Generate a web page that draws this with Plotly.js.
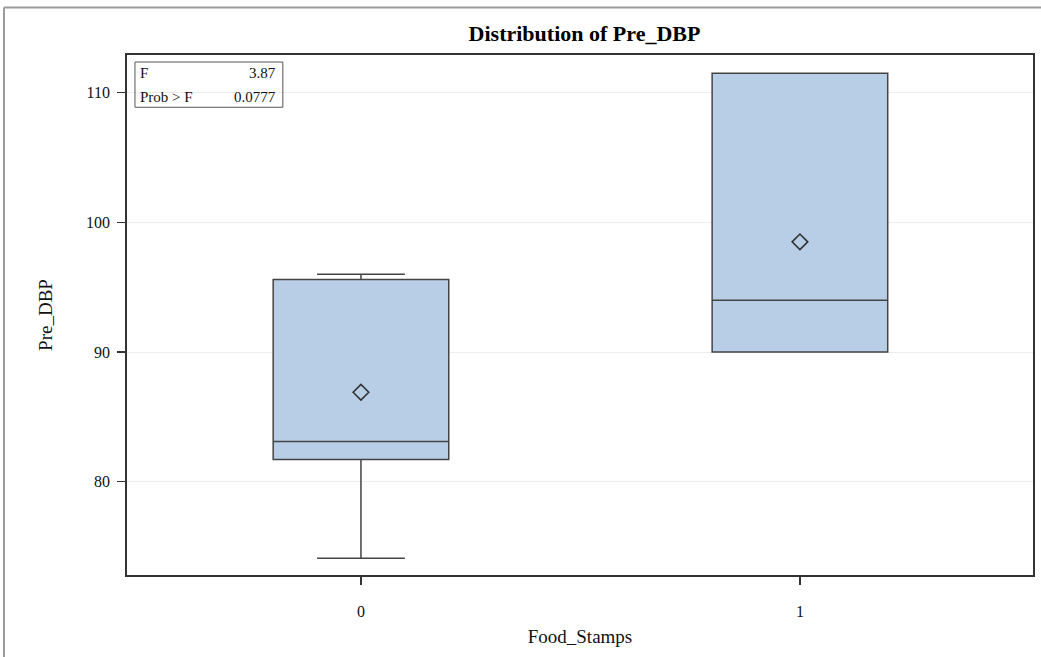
<!DOCTYPE html>
<html>
<head>
<meta charset="utf-8">
<script src="https://cdn.plot.ly/plotly-3.0.1.min.js"></script>
<style>
  html, body { margin: 0; padding: 0; background: #ffffff; }
  #chart { width: 1041px; height: 657px; }
</style>
</head>
<body>
<div id="chart"></div>
<script>
// ---- Data ----
var categories = [0, 1];
var tickLabels = ["0", "1"];
var lowerFence = [74.1, 90.0];
var q1Values = [81.7, 90.0];
var medianValues = [83.1, 94.0];
var q3Values = [95.6, 111.5];
var upperFence = [96.0, 111.5];
var meanValues = [86.9, 98.5];
var statLabels = ["F", "Prob > F"];
var statValues = ["3.87", "0.0777"];
var yTicks = [80, 90, 100, 110];

var serif = "Liberation Serif, Times New Roman, serif";
var ink = "#111111";

var boxTrace = {
  type: "box",
  x: categories,
  lowerfence: lowerFence,
  q1: q1Values,
  median: medianValues,
  q3: q3Values,
  upperfence: upperFence,
  width: 0.4,
  whiskerwidth: 0.5,
  fillcolor: "#B8CDE6",
  line: { color: "#444444", width: 1.5 },
  boxpoints: false,
  hoverinfo: "skip",
  showlegend: false
};

var meanTrace = {
  type: "scatter",
  mode: "markers",
  x: categories,
  y: meanValues,
  marker: {
    symbol: "diamond-open",
    size: 12,
    color: "#333333",
    line: { color: "#333333", width: 1.6 }
  },
  hoverinfo: "skip",
  showlegend: false
};

// stat inset box (positions in paper coords)
var annotations = [];
var rowsY = [0.965, 0.920];
for (var i = 0; i < statLabels.length; i++) {
  annotations.push({
    xref: "paper", yref: "paper",
    x: 0.0121, y: rowsY[i], xanchor: "left", yanchor: "middle",
    text: statLabels[i], showarrow: false,
    font: { family: serif, size: 15, color: ink }
  });
  annotations.push({
    xref: "paper", yref: "paper",
    x: 0.1666, y: rowsY[i], xanchor: "right", yanchor: "middle",
    text: statValues[i], showarrow: false,
    font: { family: serif, size: 15, color: ink }
  });
}

var layout = {
  width: 1041,
  height: 657,
  margin: { l: 127, r: 8, t: 55, b: 82 },
  paper_bgcolor: "#ffffff",
  plot_bgcolor: "#ffffff",
  font: { family: serif, color: ink },
  title: {
    text: "<b>Distribution of Pre_DBP</b>",
    font: { family: serif, size: 22, color: "#000000" },
    x: 0.5615, xanchor: "center",
    y: 0.95, yanchor: "middle"
  },
  xaxis: {
    range: [-0.533, 1.531],
    tickvals: categories,
    ticktext: tickLabels,
    ticks: "outside",
    ticklen: 8,
    tickwidth: 1.3,
    tickcolor: "#333333",
    ticklabelstandoff: 13,
    tickfont: { family: serif, size: 16, color: ink },
    showgrid: false,
    zeroline: false,
    showline: true,
    linecolor: "#333333",
    linewidth: 1.8,
    mirror: true,
    title: {
      text: "Food_Stamps",
      font: { family: serif, size: 19, color: ink },
      standoff: 11
    }
  },
  yaxis: {
    range: [72.8, 112.91],
    tickvals: yTicks,
    ticks: "outside",
    ticklen: 8,
    tickwidth: 1.3,
    tickcolor: "#333333",
    ticklabelstandoff: 4,
    tickfont: { family: serif, size: 16, color: ink },
    showgrid: true,
    gridcolor: "#ececec",
    gridwidth: 1,
    zeroline: false,
    showline: true,
    linecolor: "#333333",
    linewidth: 1.8,
    mirror: true,
    title: {
      text: "Pre_DBP",
      font: { family: serif, size: 19, color: ink },
      standoff: 28
    }
  },
  shapes: [
    {
      type: "rect", xref: "paper", yref: "paper",
      x0: 0.0088, x1: 0.172, y0: 0.8995, y1: 0.9865,
      line: { color: "#555555", width: 1 },
      fillcolor: "rgba(255,255,255,0)"
    },
    {
      type: "line", xref: "paper", yref: "paper",
      x0: -0.1358, x1: 1.0088, y0: 1.0913, y1: 1.0913,
      line: { color: "#9a9a9a", width: 2 }
    },
    {
      type: "line", xref: "paper", yref: "paper",
      x0: -0.1358, x1: -0.1358, y0: -0.158, y1: 1.0913,
      line: { color: "#9a9a9a", width: 2 }
    }
  ],
  annotations: annotations,
  showlegend: false
};

Plotly.newPlot("chart", [boxTrace, meanTrace], layout, { displayModeBar: false, staticPlot: true });
</script>
</body>
</html>
